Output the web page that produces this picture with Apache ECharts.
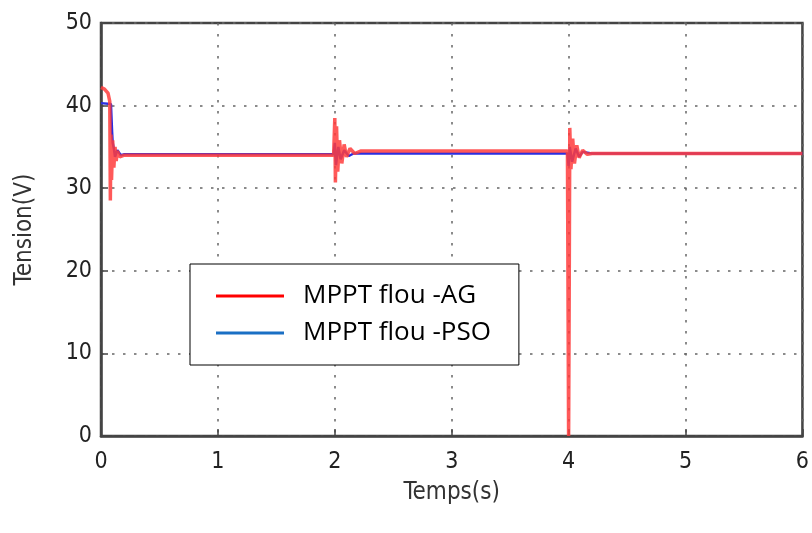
<!DOCTYPE html>
<html>
<head>
<meta charset="utf-8">
<script src="https://cdn.jsdelivr.net/npm/echarts@6/dist/echarts.min.js"></script>
<style>
  html, body { margin: 0; padding: 0; background: #fff; }
  #chart { width: 812px; height: 533px; }
</style>
</head>
<body>
<div id="chart"></div>
<script>
// axes
var xTicks = [0, 1, 2, 3, 4, 5, 6];
var yTicks = [0, 10, 20, 30, 40, 50];

// MPPT flou -AG (rouge)
var agTime = [0, 0.03, 0.06, 0.075, 0.08, 0.085, 0.09, 0.1, 0.11, 0.12, 0.13, 0.14, 0.16, 0.2,
  1.99, 2.0, 2.005, 2.015, 2.025, 2.04, 2.06, 2.08, 2.1, 2.13, 2.17, 2.22,
  3.99, 4.0, 4.005, 4.01, 4.02, 4.035, 4.05, 4.07, 4.09, 4.12, 4.16, 4.2, 6.0];
var agVolt = [42.2, 42.0, 41.5, 40.5, 28.5, 36.5, 31.0, 35.8, 32.5, 35.0, 33.3, 34.5, 33.8, 34.0,
  34.0, 38.5, 30.7, 37.5, 32.0, 35.8, 33.0, 35.3, 33.8, 34.8, 34.2, 34.5,
  34.5, 0, 17, 37.3, 32.3, 36.0, 33.0, 35.2, 33.7, 34.6, 34.1, 34.2, 34.2];

// MPPT flou -PSO (bleu)
var psoTime = [0, 0.085, 0.095, 0.1, 0.11, 0.12, 0.14, 0.17, 0.2,
  1.99, 2.0, 2.01, 2.03, 2.05, 2.08, 2.12, 2.16,
  3.99, 4.0, 4.01, 4.03, 4.06, 4.09, 4.12, 4.2, 6.0];
var psoVolt = [40.3, 40.2, 36.8, 35.5, 34.8, 33.8, 34.6, 34.0, 34.1,
  34.1, 35.5, 32.8, 35.0, 33.5, 34.6, 33.9, 34.2,
  34.2, 32.7, 35.0, 33.2, 34.8, 33.8, 34.4, 34.2, 34.2];

function zip(t, v) {
  var out = [];
  for (var i = 0; i < t.length; i++) out.push([t[i], v[i]]);
  return out;
}

var chart = echarts.init(document.getElementById('chart'));
var labelFont = '"Liberation Sans Narrow", "DejaVu Sans Condensed", sans-serif';

var option = {
  animation: false,
  grid: {
    left: 101, right: 9, top: 23, bottom: 97,
    show: true, borderColor: '#444', borderWidth: 2.5
  },
  legend: {
    orient: 'vertical',
    left: 190, top: 264,
    padding: [19, 28, 19, 26],
    borderColor: '#000', borderWidth: 1,
    backgroundColor: '#fff',
    itemWidth: 68, itemHeight: 3, itemGap: 11,
    icon: 'rect',
    textStyle: {
      fontFamily: '"Open Sans", sans-serif', fontSize: 26, color: '#000',
      padding: [0, 0, 0, 14]
    },
    data: [
      { name: 'MPPT flou -AG', itemStyle: { color: '#ff0000' } },
      { name: 'MPPT flou -PSO', itemStyle: { color: '#1a6fc4' } }
    ]
  },
  xAxis: {
    type: 'value', min: xTicks[0], max: xTicks[xTicks.length - 1], interval: 1,
    name: 'Temps(s)', nameLocation: 'middle', nameGap: 45,
    nameTextStyle: { fontFamily: labelFont, fontSize: 24, color: '#333' },
    axisLine: { show: true, lineStyle: { color: '#444', width: 2.5 } },
    axisTick: { show: true, inside: true, length: 7, lineStyle: { color: '#444', width: 1.5 } },
    axisLabel: { fontFamily: labelFont, fontSize: 23, color: '#222', margin: 15 },
    splitLine: { show: true, lineStyle: { color: '#666', width: 1.5, type: [2.5, 8.5] } }
  },
  yAxis: {
    type: 'value', min: yTicks[0], max: yTicks[yTicks.length - 1], interval: 10,
    name: 'Tension(V)', nameLocation: 'middle', nameGap: 64,
    nameTextStyle: { fontFamily: labelFont, fontSize: 24, color: '#333' },
    axisLine: { show: true, lineStyle: { color: '#444', width: 2.5 } },
    axisTick: { show: true, inside: true, length: 7, lineStyle: { color: '#444', width: 1.5 } },
    axisLabel: { fontFamily: labelFont, fontSize: 23, color: '#222', margin: 9 },
    splitLine: { show: true, lineStyle: { color: '#666', width: 1.5, type: [2.5, 8.5] } }
  },
  series: [
    {
      name: 'MPPT flou -PSO', type: 'line', data: zip(psoTime, psoVolt),
      showSymbol: false, symbol: 'none',
      lineStyle: { color: '#2a2ee0', width: 2.5 },
      itemStyle: { color: '#1a6fc4' }, z: 2
    },
    {
      name: 'MPPT flou -AG', type: 'line', data: zip(agTime, agVolt),
      showSymbol: false, symbol: 'none',
      lineStyle: { color: '#ff3c3c', width: 3.5, opacity: 0.85 },
      itemStyle: { color: '#ff0000' }, z: 3
    }
  ]
};
chart.setOption(option);
</script>
</body>
</html>
